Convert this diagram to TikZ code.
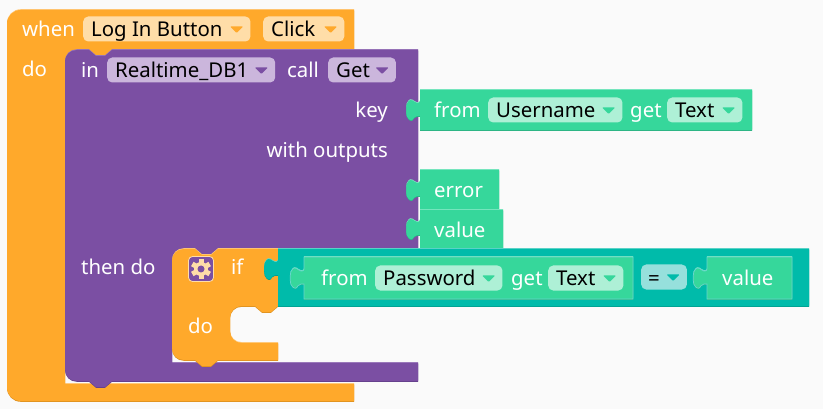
\documentclass[tikz,border=0pt]{standalone}
\usepackage{fontspec}
\setmainfont{Noto Sans}
\definecolor{pagebg}{HTML}{FAFAFA}
\definecolor{ctrl}{HTML}{FFA92B}
\definecolor{ctrldark}{HTML}{DE911F}
\definecolor{ctrllight}{HTML}{FFC97A}
\definecolor{ctrlpill}{HTML}{FFDDA8}
\definecolor{proc}{HTML}{7B4FA3}
\definecolor{procdark}{HTML}{64408A}
\definecolor{proclight}{HTML}{9A78BA}
\definecolor{procpill}{HTML}{CBB6DC}
\definecolor{getter}{HTML}{36D79B}
\definecolor{getterdark}{HTML}{2DB585}
\definecolor{getterlight}{HTML}{7FE8C2}
\definecolor{getterpill}{HTML}{AEF0D6}
\definecolor{compare}{HTML}{00BBAA}
\definecolor{comparedark}{HTML}{00A090}
\definecolor{comparelight}{HTML}{66D6CC}
\definecolor{comparepill}{HTML}{96E0DC}
\tikzset{
  block/.style={fill=#1, preaction={fill=#1light, transform canvas={yshift=.8pt}}, preaction={fill=#1dark, transform canvas={yshift=-.8pt}}},
  inset/.style={draw=comparelight, line width=.7pt},
  tabdown/.style={insert path={-- ++(7,6) -- ++(9,0) -- ++(7,-6)}},
  tabback/.style={insert path={-- ++(-7,6) -- ++(-9,0) -- ++(-7,-6)}},
  knob/.style={insert path={[rounded corners=2pt] -- ++(-5,0) -- ++(-3,5) -- ++(-5,-3) -- ++(-1,-8) -- ++(1,-8) -- ++(5,-3) -- ++(3,4) -- ++(5,0) [sharp corners]}},
  ddarrow/.pic={\fill[#1, rounded corners=.8pt] (-6.5,-2.5) -- (6.5,-2.5) -- (0,4) -- cycle;}
}
\begin{document}
\begin{tikzpicture}[x=1pt, y=-1pt,
  every node/.style={font=\fontsize{20.4}{24}\selectfont, text height=18pt, text depth=2pt, inner ysep=0pt},
  word/.style={text=white, inner xsep=0pt},
  pill/.style={fill=#1, rounded corners=5pt, text=black, minimum height=25pt, inner xsep=8pt, anchor=west}]
\useasboundingbox[fill=pagebg] (0,0) rectangle (823,409);
% outer event block
\path[block=ctrl] (7,24) .. controls (7,16) and (13,10) .. (21,10) -- (354,10) -- (354,50) -- (112,50) [tabback] -- (77,50) .. controls (70,50) and (65,55) .. (65,62) -- (65,384) -- (354,384) -- (354,401) -- (21,401) .. controls (13,401) and (7,395) .. (7,387) -- cycle;
% call block
\path[block=proc] (77,50) -- (89,50) [tabdown] -- (418,50) -- (418,249) -- (218,249) [tabback] -- (184,249) .. controls (177,249) and (172,254) .. (172,261) -- (172,363) -- (418,363) -- (418,381) -- (112,381) [tabback] -- (77,381) .. controls (70,381) and (65,376) .. (65,369) -- (65,62) .. controls (65,55) and (70,50) .. cycle;
% if block
\path[block=ctrl] (184,249) -- (195,249) [tabdown] -- (278,249) -- (278,306) [tabback] -- (242,306) .. controls (235,306) and (230,311) .. (230,318) -- (230,331) .. controls (230,338) and (235,343) .. (242,343) -- (278,343) -- (278,360) -- (218,360) [tabback] -- (184,360) .. controls (177,360) and (172,355) .. (172,348) -- (172,261) .. controls (172,254) and (177,249) .. cycle;
% getter and compare blocks
\path[block=getter] (420,90) -- (752,90) -- (752,130) -- (420,130) -- (420,116) [knob] -- cycle;
\path[block=getter] (420,170) -- (499,170) -- (499,209) -- (420,209) -- (420,196) [knob] -- cycle;
\path[block=getter] (420,210) -- (503,210) -- (503,249) -- (420,249) -- (420,235) [knob] -- cycle;
\path[block=compare] (278,249) -- (809,249) -- (809,306) -- (278,306) -- (278,275) [knob] -- cycle;
\path[block=getter, inset] (304,257) -- (633,257) -- (633,299) -- (304,299) -- (304,284) [knob] -- cycle;
\path[block=getter, inset] (707,257) -- (792,257) -- (792,299) -- (707,299) -- (707,284) [knob] -- cycle;
% header row
\node[word, anchor=west] (whenword) at (22,29) {when};
\node[pill=ctrlpill] (buttonpill) at (83,29) {Log In Button\kern20pt};
\node[pill=ctrlpill] (clickpill) at (263,29) {Click\kern21pt};
\node[word, anchor=west] (doword) at (22,69) {do};
\node[word, anchor=west] (inword) at (81,70) {in};
\node[pill=procpill] (dbpill) at (107,70) {Realtime\_DB1\kern19pt};
\node[word, anchor=west] (callword) at (287,70) {call};
\node[pill=procpill] (getpill) at (328,70) {Get\kern18pt};
\path (buttonpill.east) ++(-14,0) pic {ddarrow=ctrl};
\path (clickpill.east) ++(-14,0) pic {ddarrow=ctrl};
\path (dbpill.east) ++(-14,0) pic {ddarrow=proc};
\path (getpill.east) ++(-14,0) pic {ddarrow=proc};
% call sockets
\node[word, anchor=east] (keyword) at (388,110) {key};
\node[word, anchor=east] (outputsword) at (388,150) {with outputs};
\node[word, anchor=west] (thendoword) at (81,267) {then do};
% username getter
\node[word, anchor=west] (fromuser) at (434,110) {from};
\node[pill=getterpill] (userpill) at (488,110) {Username\kern19pt};
\node[word, anchor=west] (getuser) at (630,110) {get};
\node[pill=getterpill] (usertext) at (667,110) {Text\kern20pt};
\path (userpill.east) ++(-14,0) pic {ddarrow=getter};
\path (usertext.east) ++(-14,0) pic {ddarrow=getter};
\node[word, anchor=west] (errorword) at (434,190) {error};
\node[word, anchor=west] (valueword) at (434,230) {value};
% if block
\node[fill=proc, draw=ctrlpill, line width=.8pt, rounded corners=4pt, minimum size=25pt, inner sep=0pt] (gearbtn) at (201,269) {};
\fill[ctrlpill] (gearbtn.center) circle (7pt);
\foreach \a in {0,60,...,300}
  \fill[ctrlpill, rotate around={\a:(gearbtn.center)}] ([xshift=-2.5pt,yshift=6pt]gearbtn.center) rectangle ([xshift=2.5pt,yshift=10pt]gearbtn.center);
\fill[proc] (gearbtn.center) circle (3.5pt);
\node[word, anchor=west] (ifword) at (231,267) {if};
\node[word, anchor=west] (dothen) at (188,325) {do};
% password compare
\node[word, anchor=west] (frompass) at (321,278) {from};
\node[pill=getterpill] (passpill) at (375,278) {Password\kern19pt};
\node[word, anchor=west] (getpass) at (511,278) {get};
\node[pill=getterpill] (passtext) at (548,278) {Text\kern20pt};
\path (passpill.east) ++(-14,0) pic {ddarrow=getter};
\path (passtext.east) ++(-14,0) pic {ddarrow=getter};
\node[pill=comparepill, inner xsep=7pt] (eqpill) at (641,277) {=\kern20pt};
\path (eqpill.east) ++(-14,0) pic {ddarrow=compare};
\node[word, anchor=west] (valuecmp) at (722,278) {value};
\end{tikzpicture}
\end{document}
